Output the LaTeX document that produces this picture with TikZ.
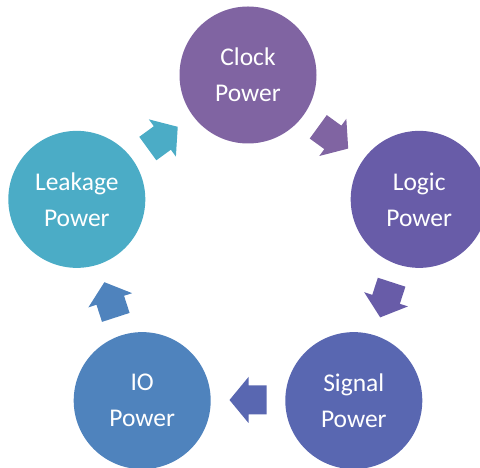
\documentclass[tikz,border=0pt]{standalone}
\usepackage{fontspec}
\setmainfont{Carlito}
\definecolor{clockc}{RGB}{128,100,162}
\definecolor{logicc}{RGB}{104,92,168}
\definecolor{signalc}{RGB}{89,103,177}
\definecolor{ioc}{RGB}{79,131,189}
\definecolor{leakc}{RGB}{75,172,198}
\tikzset{
  circ/.style={circle, minimum size=137pt, inner sep=0pt, text=white, align=center,
    font=\fontsize{25.5}{36}\selectfont},
}
\begin{document}
\begin{tikzpicture}[x=1pt,y=1pt]
\useasboundingbox (0,0) rectangle (480,468);
\begin{scope}[shift={(248,213)}]
\coordinate (ctr) at (0,0);
\node[circ, fill=clockc]  (clock)  at (90:180)   {Clock\\Power};
\node[circ, fill=logicc]  (logic)  at (18:180)   {Logic\\Power};
\node[circ, fill=signalc] (signal) at (-54:180)  {Signal\\Power};
\node[circ, fill=ioc]     (io)     at (-126:180) {IO\\Power};
\node[circ, fill=leakc]   (leak)   at (162:180)  {Leakage\\Power};
\foreach \a/\c in {54/clockc, -18/logicc, -90/signalc, -162/ioc, 126/leakc}{
  \fill[\c, shift={(\a:145)}, rotate=\a-90]
    (-18.5,-14.5) -- (-0.5,-14.5) -- (-0.5,-23) -- (18.5,0) -- (-0.5,23) -- (-0.5,14.5) -- (-18.5,14.5) -- cycle;
}
\end{scope}
\end{tikzpicture}
\end{document}
